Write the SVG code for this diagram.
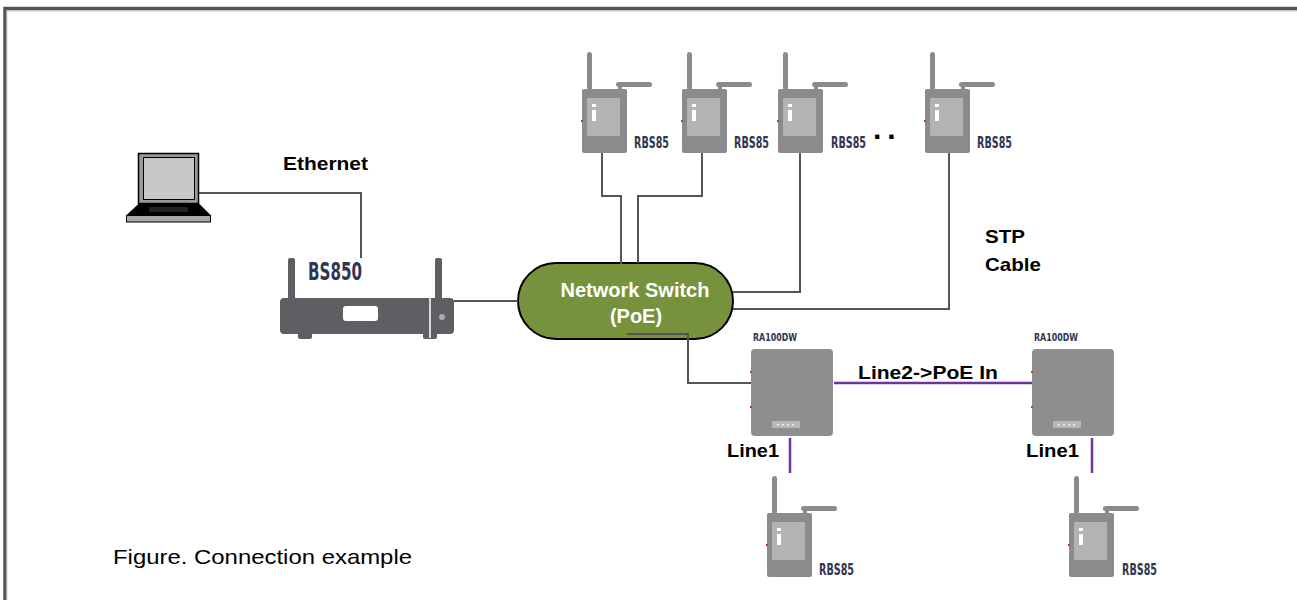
<svg xmlns="http://www.w3.org/2000/svg" xmlns:xlink="http://www.w3.org/1999/xlink" width="1297" height="600" viewBox="0 0 1297 600">
  <style>
    .lbl { font-family: "Liberation Sans", Arial, sans-serif; font-weight: bold; font-size: 19px; fill: #000; }
    .cap { font-family: "Liberation Sans", Arial, sans-serif; font-size: 21px; fill: #000; }
    .model { font-family: "DejaVu Sans Condensed", "DejaVu Sans", sans-serif; font-weight: bold; fill: #2f3552; }
    .sw { font-family: "Liberation Sans", Arial, sans-serif; font-weight: bold; font-size: 20px; fill: #fff; text-anchor: middle; }
    .wire { fill: none; stroke: #555; stroke-width: 2; }
    .line { fill: none; stroke: #7030a0; stroke-width: 2.5; }
    .dev { fill: #8b8b8d; }
  </style>
  <defs>
    <!-- handheld receiver, origin at top-left of body -->
    <g id="rbs">
      <rect class="dev" x="5" y="-37" width="5" height="38" rx="2.5"/>
      <rect class="dev" x="34" y="-7" width="36" height="5" rx="2.5"/>
      <rect class="dev" x="36" y="-4" width="4" height="5"/>
      <rect class="dev" x="0" y="0" width="45" height="64" rx="2"/>
      <rect x="5" y="9" width="33" height="38" fill="#b3b3b3"/>
      <rect x="10" y="15" width="4" height="3" fill="#fff"/>
      <rect x="10" y="21" width="4" height="11" fill="#fff"/>
      <rect x="-1" y="31" width="2" height="2" fill="#d03040"/>
    </g>
    <!-- repeater box, origin at top-left -->
    <g id="ra">
      <rect x="0" y="0" width="82" height="87" rx="4" fill="#8e8e90"/>
      <rect x="21" y="72" width="28" height="7" fill="#b8b8b8"/>
      <g fill="#eee">
        <rect x="26" y="75" width="2" height="1.5"/>
        <rect x="31" y="75" width="2" height="1.5"/>
        <rect x="36" y="75" width="2" height="1.5"/>
        <rect x="41" y="75" width="2" height="1.5"/>
      </g>
      <rect x="-1" y="22" width="2" height="2" fill="#d03040"/>
      <rect x="-1" y="57" width="2" height="2" fill="#d03040"/>
    </g>
  </defs>

  <rect width="1297" height="600" fill="#fff"/>
  <!-- frame -->
  <path d="M5,600 V8.5 H1297" fill="none" stroke="#555" stroke-width="3.5"/>
  <path d="M6.8,600 V10.8 H1297" fill="none" stroke="#bbb" stroke-width="1"/>

  <!-- laptop -->
  <g id="laptop">
    <rect x="138.5" y="153.5" width="60" height="50" fill="#9a9a9a" stroke="#000" stroke-width="1.5"/>
    <rect x="143.5" y="157.5" width="51" height="42" fill="#c8c8c8" stroke="#000" stroke-width="1"/>
    <polygon points="139,203.5 199,203.5 211,215.5 126,215.5" fill="#000"/>
    <rect x="149" y="207" width="39" height="5" fill="#222"/>
    <rect x="126.5" y="215.5" width="84" height="6.5" fill="#a8a8a8" stroke="#000" stroke-width="1"/>
  </g>

  <!-- base station -->
  <g id="bs850">
    <rect x="288" y="258" width="7" height="44" rx="2" fill="#5f5f63"/>
    <rect x="435" y="258" width="7" height="44" rx="2" fill="#5f5f63"/>
    <rect x="298" y="328" width="14" height="11" rx="2" fill="#5f5f63"/>
    <rect x="423" y="328" width="14" height="11" rx="2" fill="#5f5f63"/>
    <rect x="280" y="298" width="174" height="36" rx="4" fill="#5f5f63"/>
    <rect x="343" y="306" width="35" height="15" rx="3" fill="#fff"/>
    <line x1="430" y1="298" x2="430" y2="338" stroke="#fff" stroke-width="1.5"/>
    <circle cx="442" cy="317" r="3" fill="#aaa"/>
    <text class="model" transform="translate(308,280) scale(0.75,1)" font-size="25" textLength="72" lengthAdjust="spacingAndGlyphs" fill="#2b2f4f">BS850</text>
  </g>

  <!-- network switch -->
  <g id="switch">
    <rect x="518" y="263" width="215" height="76" rx="38" fill="#76923c" stroke="#000" stroke-width="2"/>
    <text class="sw" x="635" y="297">Network Switch</text>
    <text class="sw" x="636" y="323">(PoE)</text>
  </g>

  <!-- top receivers (labels squeezed to the narrow model-number face) -->
  <g id="rbs-1">
    <use xlink:href="#rbs" x="582" y="89"/>
    <text class="model" transform="translate(634,148) scale(0.75,1)" font-size="15" textLength="46.7" lengthAdjust="spacingAndGlyphs">RBS85</text>
  </g>
  <g id="rbs-2">
    <use xlink:href="#rbs" x="682" y="89"/>
    <text class="model" transform="translate(734,148) scale(0.75,1)" font-size="15" textLength="46.7" lengthAdjust="spacingAndGlyphs">RBS85</text>
  </g>
  <g id="rbs-3">
    <use xlink:href="#rbs" x="778" y="89"/>
    <text class="model" transform="translate(831,148) scale(0.75,1)" font-size="15" textLength="46.7" lengthAdjust="spacingAndGlyphs">RBS85</text>
  </g>
  <g id="rbs-4">
    <use xlink:href="#rbs" x="925" y="89"/>
    <text class="model" transform="translate(977,148) scale(0.75,1)" font-size="15" textLength="46.7" lengthAdjust="spacingAndGlyphs">RBS85</text>
  </g>
  <text x="873" y="139" font-family="Liberation Sans, Arial, sans-serif" font-weight="bold" font-size="30" letter-spacing="6" fill="#000">..</text>

  <!-- repeaters -->
  <g id="ra-1">
    <use xlink:href="#ra" x="751" y="349"/>
    <text class="model" transform="translate(753,341) scale(0.75,1)" font-size="11" textLength="58.7" lengthAdjust="spacingAndGlyphs" fill="#333">RA100DW</text>
  </g>
  <g id="ra-2">
    <use xlink:href="#ra" x="1032" y="349"/>
    <text class="model" transform="translate(1034,341) scale(0.75,1)" font-size="11" textLength="58.7" lengthAdjust="spacingAndGlyphs" fill="#333">RA100DW</text>
  </g>

  <!-- bottom receivers -->
  <g id="rbs-5">
    <use xlink:href="#rbs" x="767" y="513"/>
    <text class="model" transform="translate(819,575) scale(0.75,1)" font-size="15" textLength="46.7" lengthAdjust="spacingAndGlyphs">RBS85</text>
  </g>
  <g id="rbs-6">
    <use xlink:href="#rbs" x="1069" y="513"/>
    <text class="model" transform="translate(1122,575) scale(0.75,1)" font-size="15" textLength="46.7" lengthAdjust="spacingAndGlyphs">RBS85</text>
  </g>

  <!-- connectors -->
  <g id="connectors">
    <path class="wire" d="M199,193 H361 V258"/>
    <path class="wire" d="M454,301 H518"/>
    <path class="wire" d="M602,153 V196 H621 V264"/>
    <path class="wire" d="M702,153 V196 H638 V263"/>
    <path class="wire" d="M800,153 V292 H733"/>
    <path class="wire" d="M949,153 V309 H733"/>
    <path class="wire" d="M627,334 H688 V383 H751"/>
    <path class="line" d="M834,383 H1032"/>
    <path class="line" d="M790,438 V473"/>
    <path class="line" d="M1092,438 V473"/>
  </g>

  <!-- labels -->
  <text class="lbl" x="283" y="170" textLength="85" lengthAdjust="spacingAndGlyphs">Ethernet</text>
  <text class="lbl" x="985" y="243" textLength="40" lengthAdjust="spacingAndGlyphs">STP</text>
  <text class="lbl" x="985" y="271" textLength="56" lengthAdjust="spacingAndGlyphs">Cable</text>
  <text class="lbl" x="858" y="379" font-size="20" textLength="140" lengthAdjust="spacingAndGlyphs">Line2-&gt;PoE In</text>
  <text class="lbl" x="727" y="457" font-size="20" textLength="52" lengthAdjust="spacingAndGlyphs">Line1</text>
  <text class="lbl" x="1026" y="457" font-size="20" textLength="53" lengthAdjust="spacingAndGlyphs">Line1</text>
  <text class="cap" x="113" y="564" textLength="299" lengthAdjust="spacingAndGlyphs">Figure. Connection example</text>
</svg>
